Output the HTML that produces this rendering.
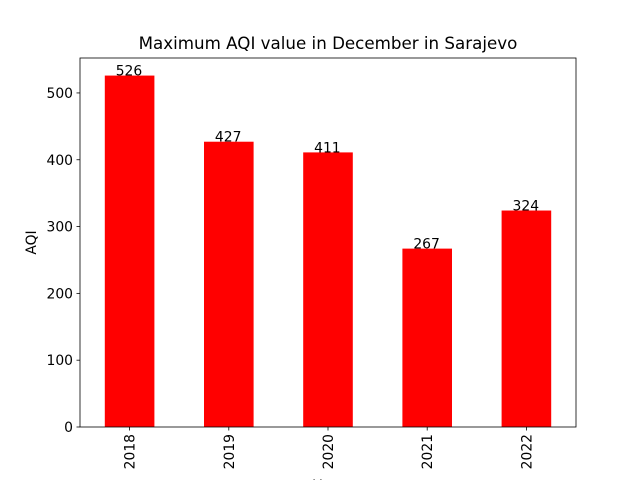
<!DOCTYPE html>
<html><head><meta charset="utf-8"><style>body{margin:0;background:#fff}svg{display:block;font-family:"DejaVu Sans","Liberation Sans",sans-serif}</style></head>
<body>
<svg id="chart" width="640" height="480">
<rect width="640" height="480" fill="#fff"/>
<text x="328" y="49" text-anchor="middle" font-size="16.7">Maximum AQI value in December in Sarajevo</text>
<g id="bars"></g><g id="yt"></g><g id="xt"></g>
<rect x="80" y="58" width="496" height="369" fill="none" stroke="#000" stroke-width="0.8"/>
<text transform="translate(36,242.5) rotate(-90)" text-anchor="middle" font-size="13.9">AQI</text>
<text x="328" y="490" text-anchor="middle" font-size="13.9">Year</text>
</svg>
<script>
const categories=["2018","2019","2020","2021","2022"];
const values=[526,427,411,267,324];
const yTicks=[0,100,200,300,400,500];
const L=80,R=576,T=58,B=427,ymax=552.3;
const ns="http://www.w3.org/2000/svg";
const xs=i=>L+(i+0.5)*(R-L)/categories.length;
const ys=v=>B-v/ymax*(B-T);
function mk(tag,a,p,t){const e=document.createElementNS(ns,tag);for(const k in a)e.setAttribute(k,a[k]);if(t!==undefined)e.textContent=t;document.getElementById(p).appendChild(e);return e;}
const u=(R-L)/categories.length;
values.forEach((v,i)=>{
const b=mk('rect',{x:xs(i)-u/4,y:ys(v),width:u/2,height:B-ys(v),fill:'#ff0000'},'bars');


const t=mk('text',{x:xs(i)-0.15*u+1,y:ys(v),'font-size':13.9},'bars',String(v));


const tk=mk('line',{x1:xs(i),x2:xs(i),y1:B,y2:B+3.5,stroke:'#000','stroke-width':0.8},'xt');


const tl=mk('text',{transform:`translate(${xs(i)+5},${B+7}) rotate(-90)`,'text-anchor':'end','font-size':13.9},'xt',categories[i]);


});
yTicks.forEach(v=>{
const tk=mk('line',{x1:L-3.5,x2:L,y1:ys(v),y2:ys(v),stroke:'#000','stroke-width':0.8},'yt');


const tl=mk('text',{x:L-7,y:ys(v)+5,'text-anchor':'end','font-size':13.9},'yt',String(v));


});
</script>
</body></html>
